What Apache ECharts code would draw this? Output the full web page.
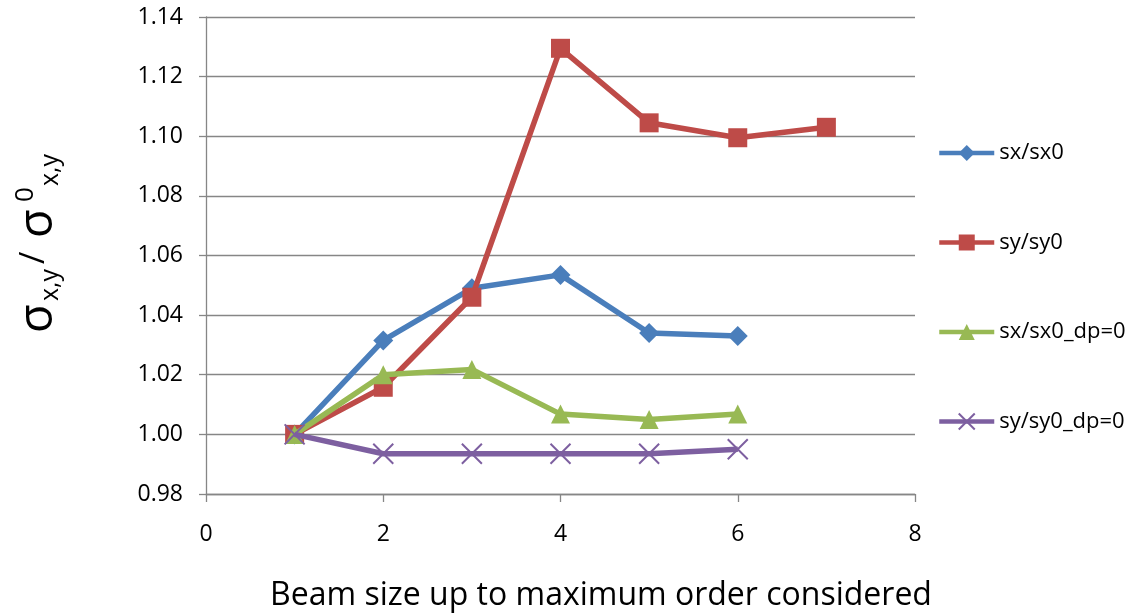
<!DOCTYPE html>
<html><head><meta charset="utf-8">
<script src="https://cdn.jsdelivr.net/npm/echarts@6/dist/echarts.min.js"></script>
<style>html,body{margin:0;padding:0;background:#fff}#c{width:1135px;height:613px}</style>
</head><body><div id="c"></div>
<script>
const xValues = [1, 2, 3, 4, 5, 6, 7];
const seriesNames = ['sx/sx0', 'sy/sy0', 'sx/sx0_dp=0', 'sy/sy0_dp=0'];
const sxSx0 = [1.000, 1.0315, 1.049, 1.0535, 1.034, 1.033];
const sySy0 = [1.000, 1.0158, 1.046, 1.1295, 1.1045, 1.0995, 1.103];
const sxSx0Dp0 = [1.000, 1.020, 1.0218, 1.0068, 1.005, 1.0068];
const sySy0Dp0 = [1.000, 0.9935, 0.9935, 0.9935, 0.9935, 0.995];
const xTicks = [0, 2, 4, 6, 8];
const yTicks = [0.98, 1.00, 1.02, 1.04, 1.06, 1.08, 1.10, 1.12, 1.14];
const xTitle = 'Beam size up to maximum order considered';

const colors = ['#4A7EBB', '#BE4B48', '#98B954', '#7D5FA0'];
const symbols = ['diamond', 'rect', 'triangle', 'path://M0,0L10,10M10,0L0,10'];
const symbolSizes = [20, 19, 19, 20];
const allData = [sxSx0, sySy0, sxSx0Dp0, sySy0Dp0];

const font = 'Open Sans, Noto Sans, sans-serif';
const chart = echarts.init(document.getElementById('c'));

const series = seriesNames.map((name, i) => ({
  name, type: 'line',
  data: allData[i].map((v, j) => [xValues[j], v]),
  symbol: symbols[i], symbolSize: symbolSizes[i],
  lineStyle: { color: colors[i], width: 5.5 },
  itemStyle: i === 3
    ? { color: colors[i], borderColor: colors[i], borderWidth: 2 }
    : { color: colors[i] },
  emphasis: { disabled: true },
  animation: false,
  z: 2 + i
}));

const titleParts = [
  { t: 'σ', size: 47, x: 39, y: 333 },
  { t: 'x,y', size: 25, x: 51, y: 301 },
  { t: '/', size: 34, x: 34, y: 264 },
  { t: 'σ', size: 47, x: 39, y: 238 },
  { t: '0', size: 26, x: 26, y: 202 },
  { t: 'x,y', size: 25, x: 51, y: 186 }
];

chart.setOption({
  backgroundColor: '#fff',
  animation: false,
  grid: { left: 206, right: 220, top: 17, bottom: 119 },
  title: {
    text: xTitle, left: 596, top: 575, textAlign: 'center',
    textStyle: { fontSize: 32, color: '#000', fontFamily: font, fontWeight: 'normal' }
  },
  xAxis: {
    type: 'value', min: xTicks[0], max: xTicks[xTicks.length - 1], interval: 2,
    axisLine: { show: true, lineStyle: { color: '#868686', width: 1.3 } },
    axisTick: { show: true, length: 8, lineStyle: { color: '#868686', width: 1.3 } },
    axisLabel: { fontSize: 23, color: '#000', fontFamily: font, margin: 29 },
    splitLine: { show: false }
  },
  yAxis: {
    type: 'value', min: yTicks[0], max: yTicks[yTicks.length - 1], interval: 0.02,
    axisLine: { show: true, lineStyle: { color: '#868686', width: 1.3 } },
    axisTick: { show: true, length: 7, lineStyle: { color: '#868686', width: 1.3 } },
    axisLabel: { fontSize: 23, color: '#000', fontFamily: font, margin: 23,
      formatter: v => v.toFixed(2) },
    splitLine: { show: true, lineStyle: { color: '#868686', width: 1.3 } }
  },
  legend: {
    orient: 'vertical', left: 932, top: 137,
    itemWidth: 55, itemHeight: 20, itemGap: 67.5,
    lineStyle: { width: 4.5 },
    textStyle: { fontSize: 22, color: '#000', fontFamily: font },
    data: seriesNames
  },
  graphic: titleParts.map(p => ({
    type: 'text', x: p.x, y: p.y, rotation: Math.PI / 2,
    style: { text: p.t, fontSize: p.size, fontFamily: font, fill: '#000',
      textAlign: 'left', textVerticalAlign: 'middle' }
  })),
  series
});
</script></body></html>
